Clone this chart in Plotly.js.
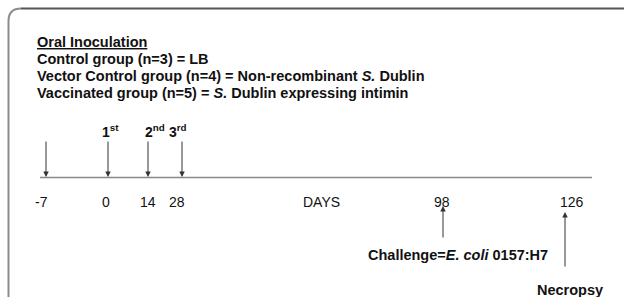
<!DOCTYPE html>
<html>
<head>
<meta charset="utf-8">
<script src="https://cdn.plot.ly/plotly-3.0.1.min.js"></script>
<style>html,body{margin:0;padding:0;background:#fff;}#chart{width:624px;height:297px;}</style>
</head>
<body>
<div id="chart"></div>
<script>
// ---- data ----
const headerTitle = 'Oral Inoculation';
const groupLines = [
  'Control group (n=3) = LB',
  'Vector Control group (n=4) = Non-recombinant <i>S.</i> Dublin',
  'Vaccinated group (n=5) = <i>S.</i> Dublin expressing intimin'
];
const doseDays = [-7, 0, 14, 28];
const doseLabels = ['', '1<sup>st</sup>', '2<sup>nd</sup>', '3<sup>rd</sup>'];
const tickLabels = ['-7', '0', '14', '28', 'DAYS', '98', '126'];
const laterDays = [98, 126];
const laterLabels = ['Challenge=<i>E. coli</i> 0157:H7', 'Necropsy'];

// ---- layout positions (pixel space of the diagram) ----
const doseX = [46, 108, 148, 182];
const doseLabelX = [46, 110, 155, 178];
const tickX = [41, 106, 148, 177, 321, 442, 572];
const laterArrowX = [443, 565];
const laterTailY = [239, 268];
const laterTipY = [206, 212];
const laterLabelX = [458, 570];
const laterLabelY = [255, 290];
const headerY = [59, 76, 93];

const FONT = 'Liberation Sans, Arial, sans-serif';
const ann = [];

ann.push({x: 35, y: 42, xref: 'x', yref: 'y', xanchor: 'left', yanchor: 'middle',
  text: '<b><u>' + headerTitle + '</u></b>', showarrow: false,
  font: {family: FONT, size: 14.5, color: '#111'}});
groupLines.forEach((t, i) => ann.push({x: 35, y: headerY[i], xref: 'x', yref: 'y',
  xanchor: 'left', yanchor: 'middle', text: '<b>' + t + '</b>', showarrow: false,
  font: {family: FONT, size: 14.5, color: '#111'}}));

doseDays.forEach((d, i) => {
  ann.push({x: doseX[i], y: 177, ax: doseX[i], ay: 140, xref: 'x', yref: 'y',
    axref: 'x', ayref: 'y', text: '', showarrow: true, arrowhead: 2,
    arrowsize: 1.1, arrowwidth: 1, arrowcolor: '#333'});
  if (doseLabels[i]) ann.push({x: doseLabelX[i], y: 131, xref: 'x', yref: 'y',
    text: '<b>' + doseLabels[i] + '</b>', showarrow: false,
    font: {family: FONT, size: 14, color: '#111'}});
});

tickLabels.forEach((t, i) => ann.push({x: tickX[i], y: 202, xref: 'x', yref: 'y',
  text: t, showarrow: false, font: {family: FONT, size: 14, color: '#111'}}));

laterDays.forEach((d, i) => {
  ann.push({x: laterArrowX[i], y: laterTipY[i], ax: laterArrowX[i], ay: laterTailY[i],
    xref: 'x', yref: 'y', axref: 'x', ayref: 'y', text: '', showarrow: true,
    arrowhead: 2, arrowsize: 1.1, arrowwidth: 1, arrowcolor: '#333'});
  ann.push({x: laterLabelX[i], y: laterLabelY[i], xref: 'x', yref: 'y',
    text: '<b>' + laterLabels[i] + '</b>', showarrow: false,
    font: {family: FONT, size: 14.5, color: '#111'}});
});

const shapes = [
  // frame: left side + rounded corner
  {type: 'path', xref: 'x', yref: 'y',
   path: 'M 8.5 297 L 8.5 21 Q 8.5 8.5 21 8.5',
   line: {color: '#8c8c8c', width: 2}},
  // frame: top
  {type: 'line', xref: 'x', yref: 'y', x0: 21, x1: 624, y0: 8.5, y1: 8.5,
   line: {color: '#555', width: 2}},
  // timeline
  {type: 'line', xref: 'x', yref: 'y', x0: 40, x1: 592, y0: 177.5, y1: 177.5,
   line: {color: '#888', width: 1.5}}
];

const layout = {
  width: 624, height: 297,
  margin: {l: 0, r: 0, t: 0, b: 0},
  paper_bgcolor: '#fff', plot_bgcolor: '#fff',
  xaxis: {range: [0, 624], visible: false, fixedrange: true},
  yaxis: {range: [297, 0], visible: false, fixedrange: true},
  showlegend: false,
  annotations: ann,
  shapes: shapes
};

Plotly.newPlot('chart', [{x: [], y: [], type: 'scatter'}], layout, {displayModeBar: false, staticPlot: true});
</script>
</body>
</html>
